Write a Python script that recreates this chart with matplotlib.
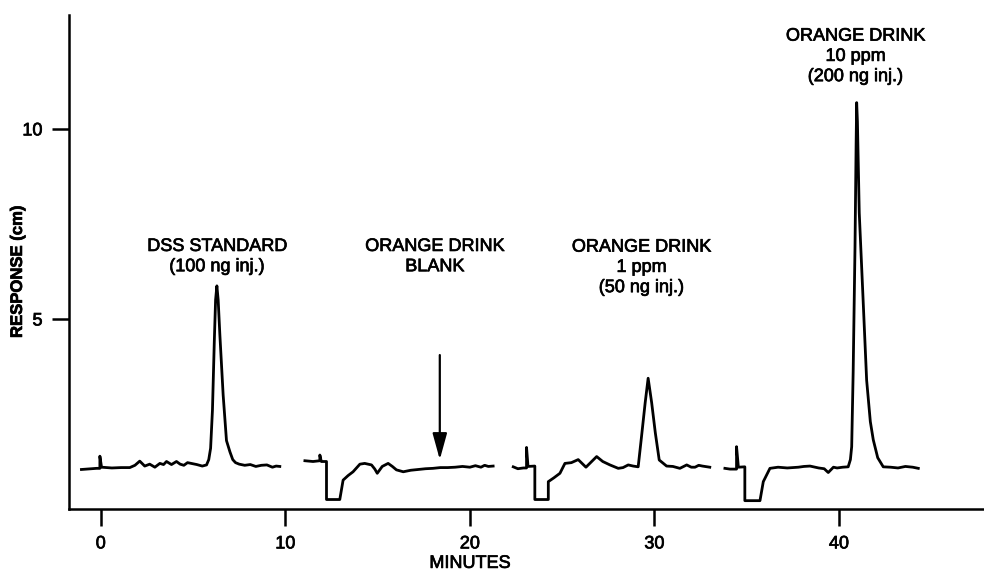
import matplotlib.pyplot as plt
import matplotlib.patheffects as pe

plt.rcParams['font.family'] = ['Liberation Sans', 'DejaVu Sans']

# detector trace for each injection (minutes, response in cm)
dss_t = [-1.05, -0.5, -0.23, -0.05, -0.05, 0.04, 0.6, 1.1, 1.57, 1.85, 2.11, 2.38, 2.65,
         2.93, 3.2, 3.4, 3.56, 3.83, 4.1, 4.3, 4.5, 4.7, 4.9, 5.2, 5.5, 5.73, 5.85, 5.95,
         6.05, 6.15, 6.22, 6.29, 6.36, 6.45, 6.63, 6.81, 7.0, 7.15, 7.3, 7.5, 7.8, 8.1,
         8.4, 8.7, 9.0, 9.3, 9.5, 9.7]
dss_r = [1.04, 1.06, 1.07, 1.07, 1.39, 1.1, 1.08, 1.09, 1.09, 1.15, 1.26, 1.13, 1.18,
         1.1, 1.2, 1.17, 1.25, 1.17, 1.25, 1.18, 1.15, 1.22, 1.2, 1.17, 1.13, 1.16, 1.3,
         1.6, 2.6, 4.4, 5.5, 5.87, 5.5, 4.6, 3.0, 1.8, 1.5, 1.3, 1.22, 1.18, 1.15,
         1.17, 1.12, 1.15, 1.16, 1.1, 1.13, 1.12]

blank_t = [11.06, 11.5, 11.87, 11.87, 11.95, 12.23, 12.23, 12.95, 13.13, 13.4, 13.67,
           14.04, 14.3, 14.67, 14.85, 14.98, 15.25, 15.57, 15.8, 16.02, 16.39, 16.8,
           17.2, 17.6, 18.0, 18.4, 18.8, 19.2, 19.6, 20.0, 20.3, 20.6, 20.8, 21.0, 21.26]
blank_r = [1.27, 1.25, 1.27, 1.42, 1.25, 1.25, 0.25, 0.25, 0.76, 0.88, 0.98,
           1.18, 1.2, 1.16, 1.05, 0.94, 1.12, 1.2, 1.12, 1.03, 0.98, 1.02,
           1.04, 1.06, 1.07, 1.09, 1.09, 1.1, 1.12, 1.1, 1.14, 1.1, 1.15, 1.12, 1.13]

ppm1_t = [22.35, 22.6, 22.9, 23.07, 23.07, 23.15, 23.52, 23.52, 24.25, 24.25, 24.55,
          24.88, 25.15, 25.5, 25.87, 26.29, 26.6, 26.87, 27.2, 27.59, 28.04, 28.3,
          28.58, 28.85, 29.12, 29.3, 29.5, 29.66, 29.85, 30.05, 30.26, 30.66, 31.0,
          31.38, 31.75, 32.0, 32.2, 32.4, 32.6, 33.0]
ppm1_r = [1.11, 1.06, 1.08, 1.08, 1.62, 1.12, 1.13, 0.25, 0.25, 0.72, 0.82,
          0.94, 1.2, 1.22, 1.3, 1.1, 1.25, 1.38, 1.25, 1.16, 1.07, 1.09,
          1.16, 1.13, 1.11, 1.9, 2.8, 3.44, 2.8, 2.0, 1.29, 1.13, 1.12,
          1.07, 1.16, 1.1, 1.1, 1.15, 1.13, 1.1]

ppm10_t = [33.82, 34.1, 34.3, 34.45, 34.45, 34.55, 34.9, 34.9, 35.72, 35.9, 36.26, 36.7,
           37.2, 37.8, 38.1, 38.43, 38.9, 39.2, 39.42, 39.7, 39.9, 40.2, 40.5, 40.62,
           40.69, 40.77, 40.87, 40.93, 40.96, 41.0, 41.1, 41.3, 41.5, 41.7, 41.86, 42.1,
           42.4, 42.8, 43.2, 43.6, 44.0, 44.3]
ppm10_r = [1.07, 1.05, 1.05, 1.05, 1.64, 1.1, 1.11, 0.22, 0.22, 0.72, 1.07, 1.1,
           1.08, 1.1, 1.12, 1.13, 1.08, 1.06, 0.96, 1.1, 1.08, 1.1, 1.11, 1.3,
           1.64, 3.6, 6.9, 9.6, 10.69, 10.2, 7.79, 5.6, 3.39, 2.3, 1.82, 1.35,
           1.11, 1.1, 1.08, 1.12, 1.1, 1.07]

labels = ['DSS STANDARD\n(100 ng inj.)', 'ORANGE DRINK\nBLANK',
          'ORANGE DRINK\n1 ppm\n(50 ng inj.)', 'ORANGE DRINK\n10 ppm\n(200 ng inj.)']
label_x = [6.3, 18.1, 29.3, 40.9]
label_y = [6.15, 6.15, 5.6, 11.15]

# slightly heavier strokes for the printed-style lettering
heavy = [pe.withStroke(linewidth=0.5, foreground='black')]

fig = plt.figure(figsize=(9.84, 5.74), dpi=100)
ax = fig.add_axes([0.070, 0.1132, 0.93, 0.861])

for t, r in [(dss_t, dss_r), (blank_t, blank_r), (ppm1_t, ppm1_r), (ppm10_t, ppm10_r)]:
    ax.plot(t, r, color='black', lw=2.0, solid_joinstyle='round')

for txt, x, y in zip(labels, label_x, label_y):
    ax.text(x, y, txt, ha='center', va='bottom', fontsize=13, linespacing=1.25,
            path_effects=heavy)

# injection point of the blank
ax.annotate('', xy=(18.37, 1.3), xytext=(18.37, 4.05),
            arrowprops=dict(arrowstyle='-|>,head_length=0.8,head_width=0.22',
                            color='black', lw=1.6, mutation_scale=20,
                            shrinkA=0, shrinkB=0))

ax.set_xlim(-1.73, 47.86)
ax.set_ylim(0, 13.0)
ax.set_xticks([0, 10, 20, 30, 40])
ax.set_yticks([5, 10])
ax.tick_params(direction='out', length=12, width=1.8, labelsize=13, pad=7)
for lab in ax.get_xticklabels() + ax.get_yticklabels():
    lab.set_path_effects(heavy)
for s in ['top', 'right']:
    ax.spines[s].set_visible(False)
for s in ['left', 'bottom']:
    ax.spines[s].set_linewidth(1.8)

ax.set_ylabel('RESPONSE (cm)', fontsize=12, fontweight='bold', path_effects=heavy)
ax.yaxis.set_label_coords(-0.048, 0.48)
ax.text(20, -0.11, 'MINUTES', transform=ax.get_xaxis_transform(),
        ha='center', va='center', fontsize=13, path_effects=heavy)

plt.savefig('out.png', dpi=100)
